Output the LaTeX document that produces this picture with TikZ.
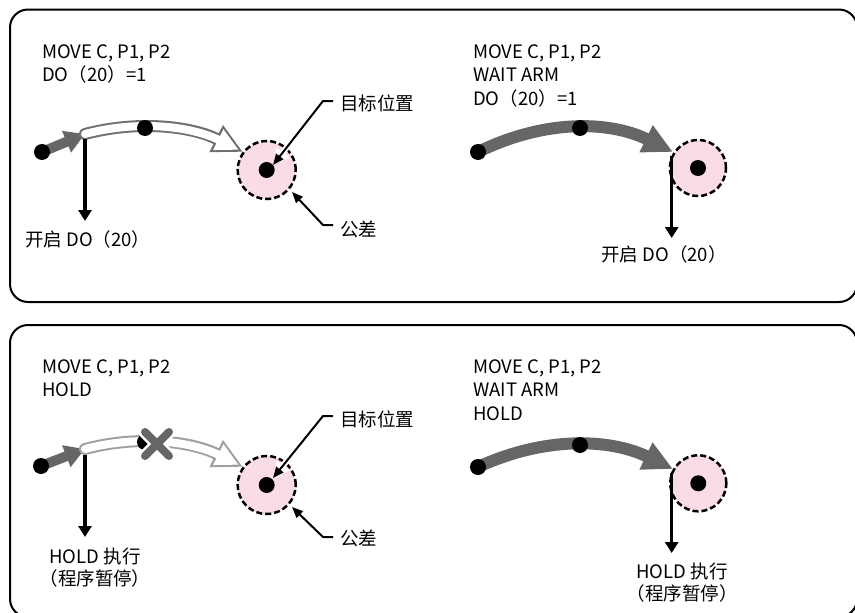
\documentclass[tikz,border=0pt]{standalone}
\usepackage{fontspec}
\setmainfont{Noto Sans CJK SC}
\usetikzlibrary{arrows.meta,calc}
\definecolor{darkg}{HTML}{666666}
\definecolor{hollowA}{HTML}{707070}
\definecolor{hollowB}{HTML}{A0A0A0}
\definecolor{pinkfill}{HTML}{F9DCE8}
\tikzset{
  panel/.style={draw=black, line width=2pt, rounded corners=18pt},
  dot/.style={circle, fill=black, minimum size=16pt, inner sep=0pt},
  txt/.style={font=\fontsize{18.5}{23}\selectfont, inner sep=0pt, anchor=base west},
  ctxt/.style={font=\fontsize{18.5}{23}\selectfont, inner sep=0pt, anchor=base},
  target/.style={circle, draw=black, dash pattern=on 6pt off 3pt, line width=2.5pt, fill=pinkfill, inner sep=0pt, minimum size=#1},
  shortarrow/.style={draw=darkg, line width=10pt, -{Triangle[length=20pt,width=22pt]}},
  longarrow/.style={draw=darkg, line width=12pt, -{Triangle[length=30pt,width=28pt]}},
  hollowout/.style={draw=#1, line width=12pt, line cap=round, -{Triangle[length=30pt,width=28pt]}},
  hollowin/.style={draw=white, line width=8pt, line cap=round, shorten >=4.7pt, -{Triangle[length=23pt,width=21.5pt]}},
  vline/.style={draw=black, line width=3.5pt, -{Triangle[length=11pt,width=13pt]}},
  leader/.style={draw=black, line width=2pt, -{Triangle[length=11pt,width=9pt]}},
  halo/.style={draw=white, line width=6pt, -{Triangle[length=16pt,width=15pt]}},
  cross/.style={draw=darkg, line width=8pt, line cap=round},
  crosshalo/.style={draw=white, line width=13pt, line cap=round},
}
\begin{document}
\begin{tikzpicture}[x=1pt,y=-1pt]
\useasboundingbox (0,0) rectangle (855,613);
\clip (0,0) rectangle (855,613);
% panels
\draw[panel] (10,9.5) rectangle (857,302);
\draw[panel] (10,325) rectangle (857,617);

% ================= top left =================
\node[txt] (tl1) at (42,58) {MOVE C, P1, P2};
\node[txt] (tl2) at (42,81.5) {DO（20）=1};
\node[target=58pt] (g1) at (266.7,170) {};
\node[dot] (gd1) at (g1.center) {};
\coordinate (s1) at (42,152);
\coordinate (a1) at (85,134);
\coordinate (t1) at (243,152);
\draw[shortarrow] (s1) -- (a1);
\draw[hollowout=hollowA] (a1) .. controls (138,120) and (191,126) .. (t1);
\draw[hollowin] (a1) .. controls (138,120) and (191,126) .. (t1);
\node[dot] (p1) at (145,128) {};
\node[dot] (sd1) at (s1) {};
\coordinate (v1) at (85,139);
\coordinate (v1e) at (85,221);
\draw[vline] (v1) -- (v1e);
\node[txt] (lab1) at (25,246) {开启 DO（20）};
\node[txt] (n1) at (340,110) {目标位置};
\coordinate (k1) at (333,101);
\coordinate (j1) at (323,101);
\coordinate (e1) at (273,165);
\draw[halo] (j1) -- (e1);
\draw[leader] (k1) -- (j1) -- (e1);
\node[txt] (m1) at (340,236) {公差};
\coordinate (k2) at (333,225);
\coordinate (j2) at (323,225);
\coordinate (e2) at (292,192);
\draw[leader] (k2) -- (j2) -- (e2);

% ================= top right =================
\node[txt] (tr1) at (473,58) {MOVE C, P1, P2};
\node[txt] (tr2) at (473,81.5) {WAIT ARM};
\node[txt] (tr3) at (473,105) {DO（20）=1};
\node[target=56pt] (g2) at (698,168) {};
\node[dot] (gd2) at (g2.center) {};
\coordinate (s2) at (478,152);
\coordinate (t2) at (673,152);
\draw[longarrow] (s2) .. controls (543,120) and (608,120) .. (t2);
\node[dot] (sd2) at (s2) {};
\node[dot] (p2) at (580,128) {};
\coordinate (v2) at (671.7,156);
\coordinate (v2e) at (671.7,238);
\draw[vline] (v2) -- (v2e);
\node[ctxt] (lab2) at (664,261.5) {开启 DO（20）};

% ================= bottom left =================
\node[txt] (bl1) at (42,373) {MOVE C, P1, P2};
\node[txt] (bl2) at (42,396.5) {HOLD};
\node[target=58pt] (g3) at (266.7,485) {};
\node[dot] (gd3) at (g3.center) {};
\coordinate (s3) at (41,466);
\coordinate (a3) at (85,449);
\coordinate (t3) at (243,467);
\draw[shortarrow] (s3) -- (a3);
\draw[hollowout=hollowB] (a3) .. controls (138,435) and (191,441) .. (t3);
\draw[hollowin] (a3) .. controls (138,435) and (191,441) .. (t3);
\node[dot] (p3) at (145,442) {};
\coordinate (x3) at (157,444);
\draw[crosshalo] ($(x3)+(-12,-12)$) -- ($(x3)+(12,12)$);
\draw[crosshalo] ($(x3)+(-12,12)$) -- ($(x3)+(12,-12)$);
\draw[cross] ($(x3)+(-12,-12)$) -- ($(x3)+(12,12)$);
\draw[cross] ($(x3)+(-12,12)$) -- ($(x3)+(12,-12)$);
\node[dot] (sd3) at (s3) {};
\coordinate (v3) at (85,455);
\coordinate (v3e) at (85,537);
\draw[vline] (v3) -- (v3e);
\node[ctxt] (lab3a) at (95,563.5) {HOLD 执行};
\node[ctxt] (lab3b) at (95,585) {（程序暂停）};
\node[txt] (n3) at (340,426) {目标位置};
\coordinate (k3) at (333,416);
\coordinate (j3) at (323,416);
\coordinate (e3) at (273,478);
\draw[halo] (j3) -- (e3);
\draw[leader] (k3) -- (j3) -- (e3);
\node[txt] (m3) at (340,545) {公差};
\coordinate (k4) at (333,537);
\coordinate (j4) at (323,537);
\coordinate (e4) at (292,507);
\draw[leader] (k4) -- (j4) -- (e4);

% ================= bottom right =================
\node[txt] (br1) at (473,373) {MOVE C, P1, P2};
\node[txt] (br2) at (473,396.5) {WAIT ARM};
\node[txt] (br3) at (473,420) {HOLD};
\node[target=56pt] (g4) at (698.3,483.3) {};
\node[dot] (gd4) at (g4.center) {};
\coordinate (s4) at (478,467);
\coordinate (t4) at (673,469);
\draw[longarrow] (s4) .. controls (543,437) and (608,437.7) .. (t4);
\node[dot] (sd4) at (s4) {};
\node[dot] (p4) at (580,445) {};
\coordinate (v4) at (671.7,473);
\coordinate (v4e) at (671.7,553);
\draw[vline] (v4) -- (v4e);
\node[ctxt] (lab4a) at (682,578) {HOLD 执行};
\node[ctxt] (lab4b) at (682,600) {（程序暂停）};
\end{tikzpicture}
\end{document}
